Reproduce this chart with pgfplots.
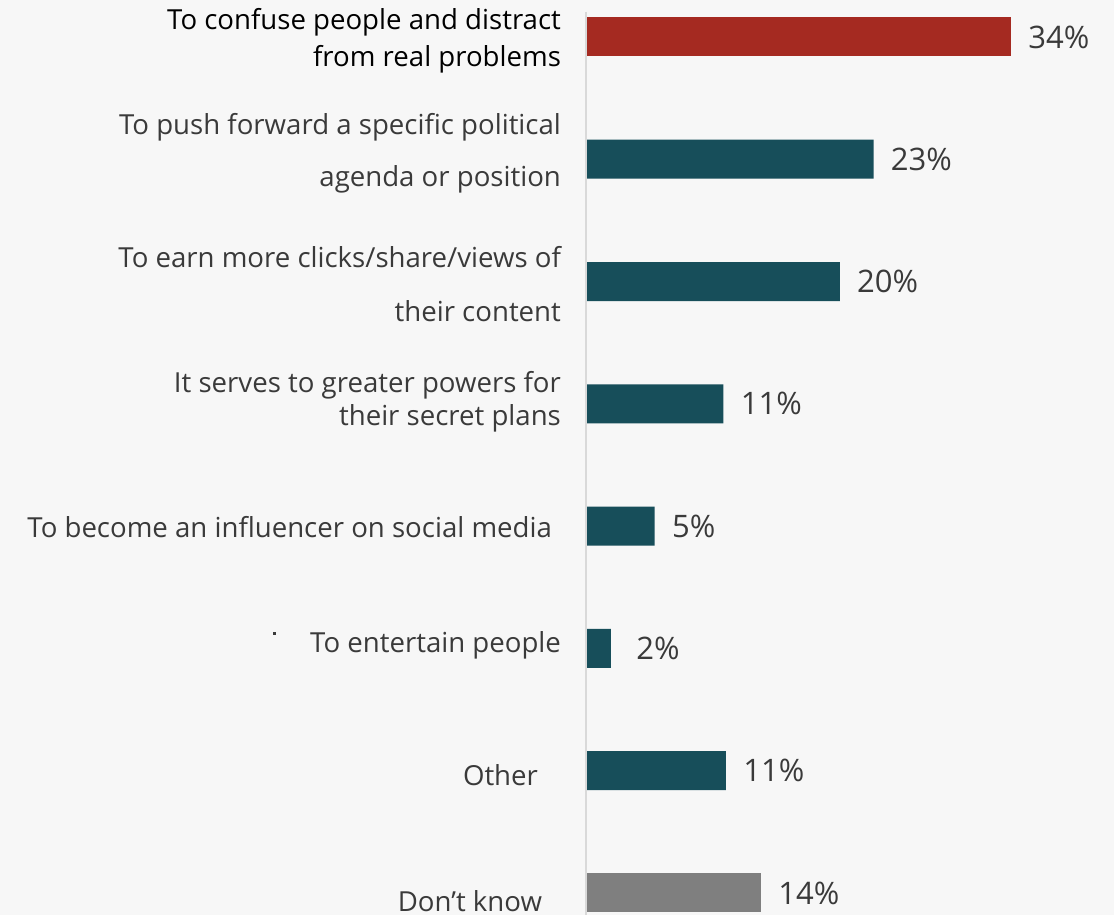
\documentclass[border=0pt]{standalone}
\usepackage{pgfplots}
\pgfplotsset{compat=1.18}
\usepackage{fontspec}
\setmainfont{Open Sans}
\definecolor{bg}{HTML}{F7F7F7}
\definecolor{redbar}{HTML}{A52A21}
\definecolor{tealbar}{HTML}{174E5A}
\definecolor{graybar}{HTML}{7F7F7F}
\definecolor{txt}{HTML}{3A3A3A}
\definecolor{axl}{HTML}{D9D9D9}
\tikzset{lbl/.style={anchor=east, align=right, text=txt, font=\fontsize{13.8}{17.5}\selectfont}}
\begin{document}
\begin{tikzpicture}
\fill[bg] (0pt,0pt) rectangle (557pt,457.5pt);
\begin{axis}[at={(293pt,0pt)}, anchor=south west, scale only axis,
  width=250pt, height=451.5pt, xmin=0, xmax=40, ymin=0.82, ymax=8.204,
  hide axis, clip=false, xbar, bar width=19.5pt, bar shift=0pt,
  point meta=explicit symbolic,
  nodes near coords={\pgfplotspointmeta\%},
  nodes near coords style={font=\fontsize{15.5}{18}\selectfont, text=txt, anchor=west, inner sep=0pt, xshift=8.5pt}]
\addplot[fill=redbar, draw=none] coordinates {(34,8) [34]};
\addplot[fill=tealbar, draw=none] coordinates {(23,7) [23] (20.3,6) [20] (11,5) [11] (5.5,4) [5] (2,3) [{\hspace{4pt}2}] (11.2,2) [11]};
\addplot[fill=graybar, draw=none] coordinates {(14,1) [14]};
\draw[axl, line width=1pt] (axis cs:0,8.204) -- (axis cs:0,0.82);
\node[lbl, text=black, xshift=-9pt] at (axis cs:0,7.97) {To confuse people and distract\\[1pt]from real problems};
\node[lbl, xshift=-9pt] at (axis cs:0,7.045) {To push forward a specific political\\[8.5pt]agenda or position};
\node[lbl, xshift=-9pt] at (axis cs:0,5.98) {To earn more clicks/share/views of\\[9.5pt]their content};
\node[lbl, xshift=-9pt] at (axis cs:0,5.02) {It serves to greater powers for\\[-1pt]their secret plans};
\node[lbl, xshift=-13.5pt] at (axis cs:0,3.993) {To become an influencer on social media};
\node[lbl, xshift=-9pt] at (axis cs:0,3.029) {To entertain people};
\node[lbl, xshift=-20.5pt] at (axis cs:0,1.966) {Other};
\node[lbl, xshift=-18.5pt] at (axis cs:0,0.935) {Don’t know};
\fill[txt] ([xshift=-156.5pt,yshift=5pt]axis cs:0,3.029) rectangle ++(1.5pt,1.5pt);
\end{axis}
\pgfresetboundingbox
\path (0pt,0pt) rectangle (557pt,457.5pt);
\end{tikzpicture}
\end{document}
